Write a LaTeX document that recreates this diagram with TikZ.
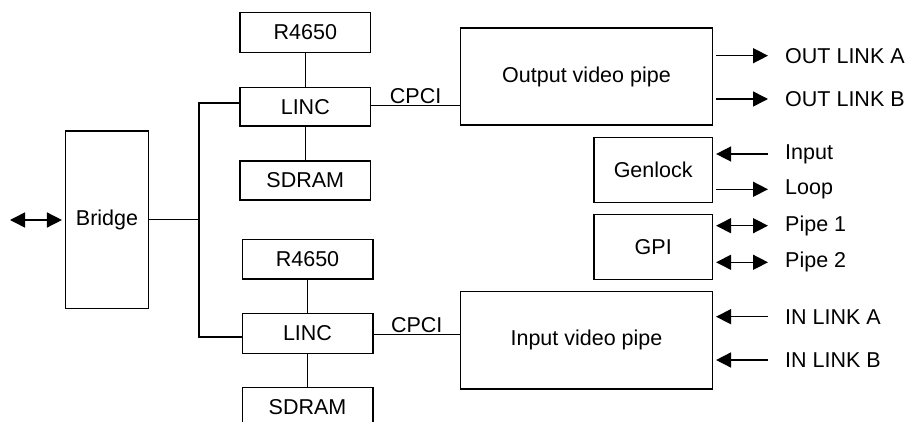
\documentclass[tikz,border=0pt]{standalone}
\usepackage{fontspec}
\setmainfont{Liberation Sans}
\usetikzlibrary{arrows.meta}
\begin{document}
\begin{tikzpicture}[x=1pt,y=-1pt,
  every node/.style={font=\fontsize{21.5}{25}\selectfont},
  blk/.style={draw,line width=1.5pt,inner sep=0pt,minimum width=#1},
  conn/.style={line width=1.5pt},
  tipA/.style={},
  sig/.style={line width=1.5pt,-{Triangle[length=15pt,width=15pt]}},
  sigin/.style={line width=1.5pt,{Triangle[length=15pt,width=15pt]}-},
  sigboth/.style={line width=1.5pt,{Triangle[length=15pt,width=15pt]}-{Triangle[length=15pt,width=15pt]}},
  lbl/.style={anchor=west,inner sep=0pt}]
\clip (0,0) rectangle (905,422);
\fill[white] (0,0) rectangle (905,422);

% processor stacks
\node[blk=130.5pt,minimum height=39.6pt] (r1) at (305.3,32.5) {R4650};
\node[blk=130.5pt,minimum height=38.7pt] (linc1) at (305.3,106.7) {LINC};
\node[blk=130.5pt,minimum height=39pt] (sd1) at (305.3,180.5) {SDRAM};
\node[blk=130.5pt,minimum height=39.7pt] (r2) at (307.5,259.2) {R4650};
\node[blk=130.5pt,minimum height=39.6pt] (linc2) at (307.5,333.5) {LINC};
\node[blk=130.5pt,minimum height=39.6pt] (sd2) at (307.5,407.5) {SDRAM};

% bridge
\node[blk=82.6pt,minimum height=177.7pt] (bridge) at (107,219.8) {Bridge};

% video pipes and control blocks
\node[blk=251.6pt,minimum height=97pt] (out) at (586.5,76.5) {Output video pipe};
\node[blk=118.3pt,minimum height=65pt] (gen) at (653.2,169.8) {Genlock};
\node[blk=118.3pt,minimum height=64.6pt] (gpi) at (653.2,247) {GPI};
\node[blk=251.6pt,minimum height=97.3pt] (in) at (586.5,340.3) {Input video pipe};

% stack connections
\draw[conn] (r1) -- (linc1);
\draw[conn] (linc1) -- (sd1);
\draw[conn] (r2) -- (linc2);
\draw[conn] (linc2) -- (sd2);

% bus from the bridge to both LINCs
\coordinate (bus) at (199,219.7);
\draw[conn] (bridge.east |- bus) -- (bus);
\draw[conn] ([yshift=3.7pt]linc1.west) -| (bus);
\draw[conn] ([yshift=-3.5pt]linc2.west) -| (bus);

% CPCI links
\draw[conn] ([yshift=1.4pt]linc1.east) -- ([yshift=1.4pt]linc1.east -| out.west)
  node[midway,above=1pt,inner sep=0pt] (cpci1) {CPCI};
\draw[conn] ([yshift=-0.8pt]linc2.east) -- ([yshift=-0.8pt]linc2.east -| in.west)
  node[midway,above=1pt,inner sep=0pt] (cpci2) {CPCI};

% host side of the bridge
\coordinate (host) at (10,220);
\draw[sigboth] (host) -- ([xshift=-3pt]bridge.west |- host);

% external signals
\node[lbl] (oa) at (785,55.7) {OUT LINK A};
\node[lbl] (ob) at (785,99) {OUT LINK B};
\node[lbl] (gi) at (785,154) {Input};
\node[lbl] (gl) at (785,189.3) {Loop};
\node[lbl] (p1) at (785,225.7) {Pipe 1};
\node[lbl] (p2) at (785,262.3) {Pipe 2};
\node[lbl] (ia) at (785,316.7) {IN LINK A};
\node[lbl] (ib) at (785,360) {IN LINK B};

\draw[sig] ([xshift=3pt]out.east |- oa) -- ([xshift=-17pt]oa.west);
\draw[sig] ([xshift=3pt]out.east |- ob) -- ([xshift=-17pt]ob.west);
\draw[sigin] ([xshift=3pt]gen.east |- gi) -- ([xshift=-17pt]gi.west);
\draw[sig] ([xshift=3pt]gen.east |- gl) -- ([xshift=-17pt]gl.west);
\draw[sigboth] ([xshift=3pt]gpi.east |- p1) -- ([xshift=-17pt]p1.west);
\draw[sigboth] ([xshift=3pt]gpi.east |- p2) -- ([xshift=-17pt]p2.west);
\draw[sigin] ([xshift=3pt]in.east |- ia) -- ([xshift=-17pt]ia.west);
\draw[sigin] ([xshift=3pt]in.east |- ib) -- ([xshift=-17pt]ib.west);
\end{tikzpicture}
\end{document}
